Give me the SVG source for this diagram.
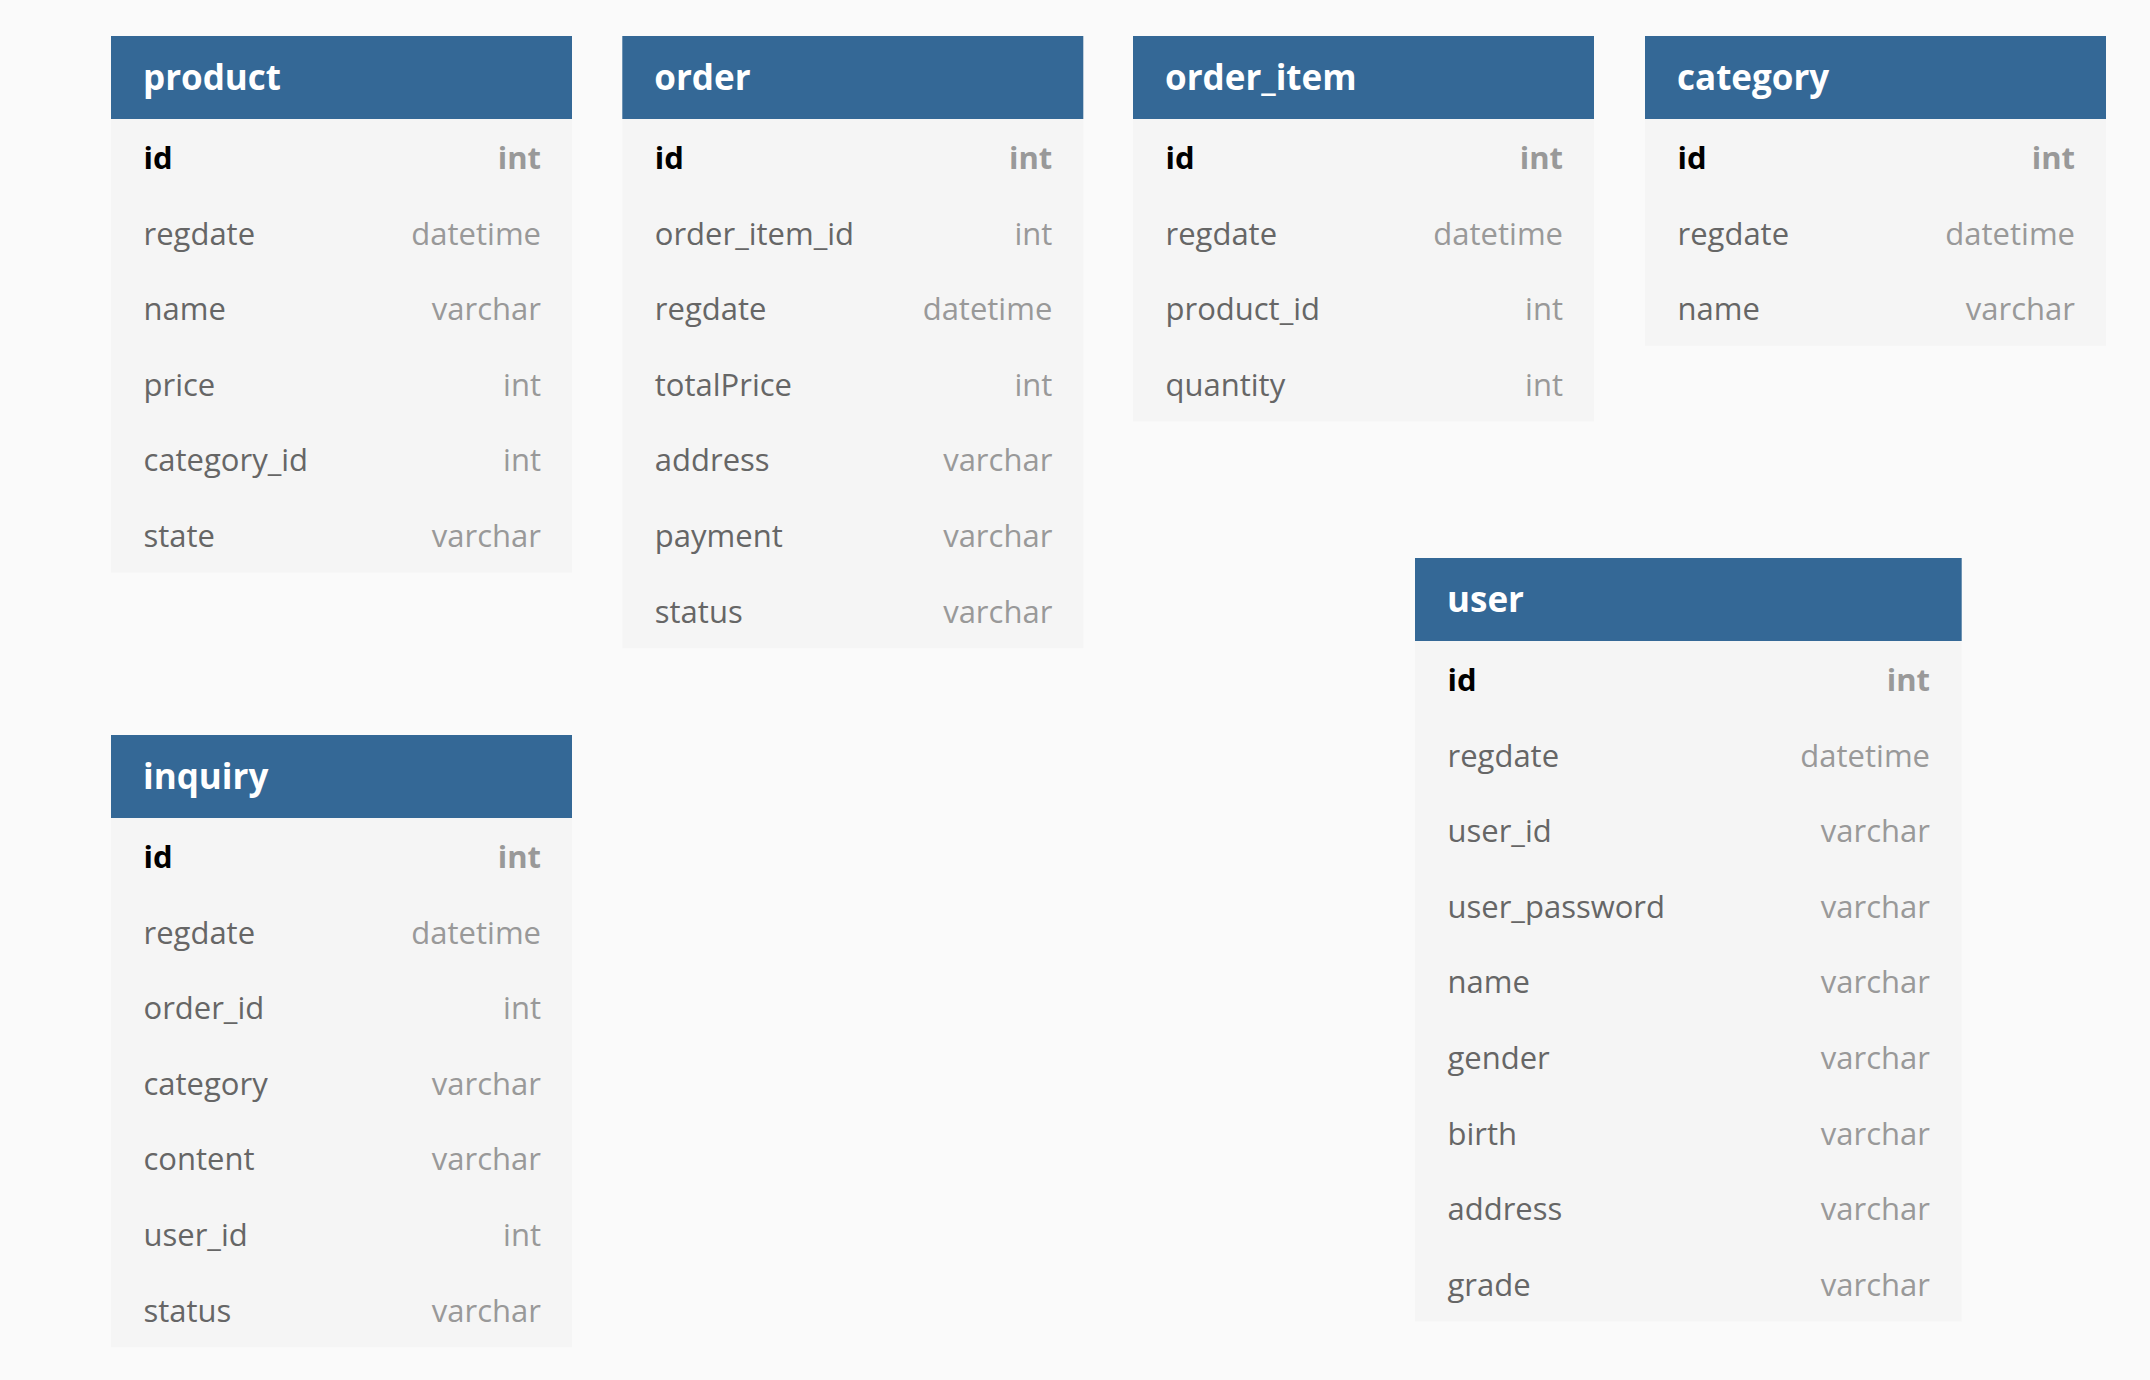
<svg xmlns="http://www.w3.org/2000/svg" width="2150" height="1380" viewBox="0 0 2150 1380">
<style>
.bg{fill:#fafafa}
.hd{fill:#346896}
.bd{fill:#f5f5f5}
.tt{font-family:"Open Sans","Noto Sans","Liberation Sans",sans-serif;font-size:35px;font-weight:700;fill:#ffffff}
.fn{font-family:"Open Sans","Noto Sans","Liberation Sans",sans-serif;font-size:31px;fill:#666666}
.ft{font-family:"Open Sans","Noto Sans","Liberation Sans",sans-serif;font-size:31px;fill:#999999;text-anchor:end}
.pk{font-weight:700;fill:#000000}
.pt{font-weight:700;fill:#999999}
</style>
<rect class="bg" x="0" y="0" width="2150" height="1380"/>
<g id="connectors"/>

<g id="product" transform="translate(111,36)">
<rect class="hd" x="0" y="0" width="461" height="83"/>
<rect class="bd" x="0" y="83" width="461" height="453.6"/>
<text class="tt" x="32" y="54">product</text>
<text class="fn pk" x="32.5" y="133">id</text><text class="ft pt" x="430" y="133">int</text>
<text class="fn" x="32.5" y="208.6">regdate</text><text class="ft" x="430" y="208.6">datetime</text>
<text class="fn" x="32.5" y="284.2">name</text><text class="ft" x="430" y="284.2">varchar</text>
<text class="fn" x="32.5" y="359.8">price</text><text class="ft" x="430" y="359.8">int</text>
<text class="fn" x="32.5" y="435.4">category_id</text><text class="ft" x="430" y="435.4">int</text>
<text class="fn" x="32.5" y="511">state</text><text class="ft" x="430" y="511">varchar</text>
</g>

<g id="order" transform="translate(622.3,36)">
<rect class="hd" x="0" y="0" width="461" height="83"/>
<rect class="bd" x="0" y="83" width="461" height="529.2"/>
<text class="tt" x="32" y="54">order</text>
<text class="fn pk" x="32.5" y="133">id</text><text class="ft pt" x="430" y="133">int</text>
<text class="fn" x="32.5" y="208.6">order_item_id</text><text class="ft" x="430" y="208.6">int</text>
<text class="fn" x="32.5" y="284.2">regdate</text><text class="ft" x="430" y="284.2">datetime</text>
<text class="fn" x="32.5" y="359.8">totalPrice</text><text class="ft" x="430" y="359.8">int</text>
<text class="fn" x="32.5" y="435.4">address</text><text class="ft" x="430" y="435.4">varchar</text>
<text class="fn" x="32.5" y="511">payment</text><text class="ft" x="430" y="511">varchar</text>
<text class="fn" x="32.5" y="586.6">status</text><text class="ft" x="430" y="586.6">varchar</text>
</g>

<g id="order_item" transform="translate(1133,36)">
<rect class="hd" x="0" y="0" width="461" height="83"/>
<rect class="bd" x="0" y="83" width="461" height="302.4"/>
<text class="tt" x="32" y="54">order_item</text>
<text class="fn pk" x="32.5" y="133">id</text><text class="ft pt" x="430" y="133">int</text>
<text class="fn" x="32.5" y="208.6">regdate</text><text class="ft" x="430" y="208.6">datetime</text>
<text class="fn" x="32.5" y="284.2">product_id</text><text class="ft" x="430" y="284.2">int</text>
<text class="fn" x="32.5" y="359.8">quantity</text><text class="ft" x="430" y="359.8">int</text>
</g>

<g id="category" transform="translate(1645,36)">
<rect class="hd" x="0" y="0" width="461" height="83"/>
<rect class="bd" x="0" y="83" width="461" height="226.8"/>
<text class="tt" x="32" y="54">category</text>
<text class="fn pk" x="32.5" y="133">id</text><text class="ft pt" x="430" y="133">int</text>
<text class="fn" x="32.5" y="208.6">regdate</text><text class="ft" x="430" y="208.6">datetime</text>
<text class="fn" x="32.5" y="284.2">name</text><text class="ft" x="430" y="284.2">varchar</text>
</g>

<g id="user" transform="translate(1415,558)">
<rect class="hd" x="0" y="0" width="546.7" height="83"/>
<rect class="bd" x="0" y="83" width="546.7" height="680.4"/>
<text class="tt" x="32" y="54">user</text>
<text class="fn pk" x="32.5" y="133">id</text><text class="ft pt" x="515" y="133">int</text>
<text class="fn" x="32.5" y="208.6">regdate</text><text class="ft" x="515" y="208.6">datetime</text>
<text class="fn" x="32.5" y="284.2">user_id</text><text class="ft" x="515" y="284.2">varchar</text>
<text class="fn" x="32.5" y="359.8">user_password</text><text class="ft" x="515" y="359.8">varchar</text>
<text class="fn" x="32.5" y="435.4">name</text><text class="ft" x="515" y="435.4">varchar</text>
<text class="fn" x="32.5" y="511">gender</text><text class="ft" x="515" y="511">varchar</text>
<text class="fn" x="32.5" y="586.6">birth</text><text class="ft" x="515" y="586.6">varchar</text>
<text class="fn" x="32.5" y="662.2">address</text><text class="ft" x="515" y="662.2">varchar</text>
<text class="fn" x="32.5" y="737.8">grade</text><text class="ft" x="515" y="737.8">varchar</text>
</g>

<g id="inquiry" transform="translate(111,735)">
<rect class="hd" x="0" y="0" width="461" height="83"/>
<rect class="bd" x="0" y="83" width="461" height="529.2"/>
<text class="tt" x="32" y="54">inquiry</text>
<text class="fn pk" x="32.5" y="133">id</text><text class="ft pt" x="430" y="133">int</text>
<text class="fn" x="32.5" y="208.6">regdate</text><text class="ft" x="430" y="208.6">datetime</text>
<text class="fn" x="32.5" y="284.2">order_id</text><text class="ft" x="430" y="284.2">int</text>
<text class="fn" x="32.5" y="359.8">category</text><text class="ft" x="430" y="359.8">varchar</text>
<text class="fn" x="32.5" y="435.4">content</text><text class="ft" x="430" y="435.4">varchar</text>
<text class="fn" x="32.5" y="511">user_id</text><text class="ft" x="430" y="511">int</text>
<text class="fn" x="32.5" y="586.6">status</text><text class="ft" x="430" y="586.6">varchar</text>
</g>
</svg>
